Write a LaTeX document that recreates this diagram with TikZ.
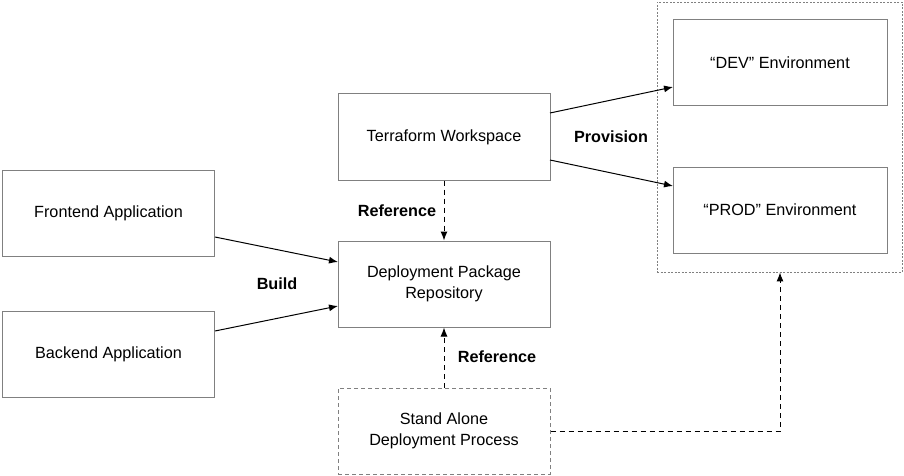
\documentclass[tikz,border=0pt]{standalone}
\usepackage{fontspec}
\setmainfont{Liberation Sans}
\usetikzlibrary{arrows.meta}
\begin{document}
\begin{tikzpicture}[x=1pt,y=-1pt,
  box/.style={draw=black!50, line width=1pt, minimum width=212pt, minimum height=86pt, align=center, inner sep=0pt, font=\fontsize{16.2}{21}\selectfont},
  dbox/.style={box, dash pattern=on 4pt off 3pt},
  lbl/.style={font=\fontsize{16.2}{21}\selectfont\bfseries},
  arr/.style={line width=1pt, -{Latex[length=9pt,width=7pt]}},
  darr/.style={arr, dash pattern=on 5pt off 4pt}]
\useasboundingbox (0,0) rectangle (904,476);
\node[draw=black!50, line width=0.8pt, dash pattern=on 2pt off 1.5pt, minimum width=245pt, minimum height=270pt, inner sep=0pt] (env) at (779.5,137) {};
\node[box] (fe) at (108.5,213) {Frontend Application};
\node[box] (be) at (108.5,354) {Backend Application};
\node[box] (tf) at (444,137) {Terraform Workspace};
\node[box] (dp) at (444,284) {Deployment Package\\Repository};
\node[dbox] (sa) at (444,431) {Stand Alone\\Deployment Process};
\node[box, minimum width=214pt] (dev) at (780,63) {“DEV” Environment};
\node[box, minimum width=214pt] (prod) at (780,210) {“PROD” Environment};
\coordinate (fe1) at (215,237);
\coordinate (be1) at (215,331);
\coordinate (dpa) at (338,262);
\coordinate (dpb) at (338,306);
\draw[arr] (fe1) -- (dpa);
\draw[arr] (be1) -- (dpb);
\node[lbl] (build) at (277,284) {Build};
\draw[darr] (tf) -- (dp);
\node[lbl] (ref1) at (397,211) {Reference};
\draw[darr] (sa) -- (dp);
\node[lbl] (ref2) at (497,357) {Reference};
\coordinate (tfa) at (550,113);
\coordinate (tfb) at (550,160);
\coordinate (deva) at (673,87);
\coordinate (proda) at (673,186);
\draw[arr] (tfa) -- (deva);
\draw[arr] (tfb) -- (proda);
\node[lbl] (prov) at (611,137) {Provision};
\coordinate (corner) at (780,431);
\draw[darr] (sa.east) -- (corner) -- (env.south -| corner);
\end{tikzpicture}
\end{document}
